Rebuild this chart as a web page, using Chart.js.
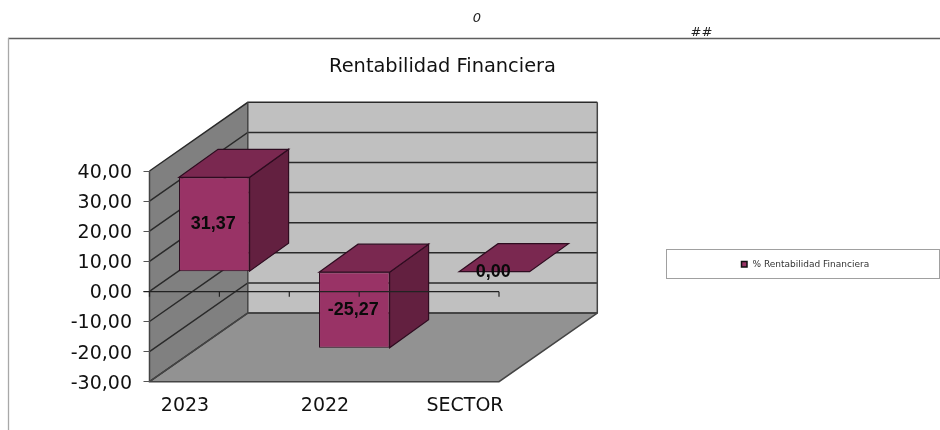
<!DOCTYPE html>
<html>
<head>
<meta charset="utf-8">
<style>
html,body{margin:0;padding:0;background:#fff}
canvas{display:block}
</style>
<script src="https://cdn.jsdelivr.net/npm/chart.js@4"></script>
</head>
<body>
<canvas id="c" width="940" height="430"></canvas>
<script>
const categories = ['2023', '2022', 'SECTOR'];
const seriesName = '% Rentabilidad Financiera';
const seriesValues = [31.37, -25.27, 0];
const chartTitle = 'Rentabilidad Financiera';
const strayTexts = ['0', '##'];
const yMin = -30, yMax = 40, yStep = 10;

const fmt = v => v.toFixed(2).replace('.', ',');
const FONT = '"DejaVu Sans"';
const WALL = {dx: 98.3, dy: 68.7};
const BAR = {shiftX: 29.3, shiftY: 19.7, dx: 39, dy: 28};

function poly(ctx, pts, fill, stroke, lw) {
  ctx.beginPath();
  pts.forEach((p, i) => i ? ctx.lineTo(p[0], p[1]) : ctx.moveTo(p[0], p[1]));
  ctx.closePath();
  if (fill) { ctx.fillStyle = fill; ctx.fill(); }
  if (stroke) { ctx.strokeStyle = stroke; ctx.lineWidth = lw || 1; ctx.stroke(); }
}

const scene = {
  id: 'scene',
  afterLayout(chart) {
    // bars spread wider than the floor in the source picture: widen the category scale only
    const x = chart.scales.x, a = chart.chartArea;
    x.left = a.left - 34.5; x.right = x.left + 420; x.width = 420;
    x.configure();
  },
  beforeDraw(chart) {
    const {ctx, chartArea: a, scales: {y}} = chart;
    const L = a.left, R = a.right, T = y.getPixelForValue(yMax), B = y.getPixelForValue(yMin);
    const dx = WALL.dx, dy = WALL.dy;
    // outer frame
    ctx.save();
    ctx.lineWidth = 1.3;
    ctx.strokeStyle = '#5e5e5e';
    ctx.beginPath(); ctx.moveTo(8, 38.5); ctx.lineTo(940, 38.5); ctx.stroke();
    ctx.strokeStyle = '#a8a8a8';
    ctx.beginPath(); ctx.moveTo(8.5, 38); ctx.lineTo(8.5, 430); ctx.stroke();
    // stray texts
    ctx.fillStyle = '#222';
    ctx.font = 'italic 13px ' + FONT;
    ctx.textAlign = 'center'; ctx.textBaseline = 'middle';
    ctx.fillText(strayTexts[0], 477, 19);
    ctx.fillText(strayTexts[1], 701.5, 33);
    // title
    ctx.fillStyle = '#111';
    ctx.font = '19.4px ' + FONT;
    ctx.fillText(chartTitle, 442.5, 67);
    // walls
    poly(ctx, [[L, T], [L + dx, T - dy], [L + dx, B - dy], [L, B]], '#808080');
    poly(ctx, [[L + dx, T - dy], [R + dx, T - dy], [R + dx, B - dy], [L + dx, B - dy]], '#c0c0c0');
    poly(ctx, [[L, B], [R, B], [R + dx, B - dy], [L + dx, B - dy]], '#929292');
    // gridlines on both walls
    ctx.strokeStyle = '#2a2a2a';
    ctx.lineWidth = 1.5;
    y.ticks.forEach(t => {
      const p = y.getPixelForValue(t.value);
      ctx.beginPath();
      ctx.moveTo(L, p); ctx.lineTo(L + dx, p - dy); ctx.lineTo(R + dx, p - dy);
      ctx.stroke();
    });
    // wall edges
    ctx.strokeStyle = '#444';
    ctx.beginPath();
    ctx.moveTo(L, T); ctx.lineTo(L, B); ctx.lineTo(R, B); ctx.lineTo(R + dx, B - dy); ctx.lineTo(R + dx, T - dy);
    ctx.moveTo(L + dx, T - dy); ctx.lineTo(L + dx, B - dy); ctx.lineTo(L, B);
    ctx.moveTo(L + dx, B - dy); ctx.lineTo(R + dx, B - dy);
    ctx.stroke();
    // legend
    ctx.fillStyle = '#fff';
    ctx.strokeStyle = '#a0a0a0';
    ctx.lineWidth = 1;
    ctx.fillRect(666.5, 249.5, 273, 29);
    ctx.strokeRect(666.5, 249.5, 273, 29);
    ctx.fillStyle = '#993366';
    ctx.strokeStyle = '#111';
    ctx.lineWidth = 1.5;
    ctx.fillRect(741.5, 261.5, 5.5, 5.5);
    ctx.strokeRect(741.5, 261.5, 5.5, 5.5);
    ctx.fillStyle = '#333';
    ctx.font = '9px ' + FONT;
    ctx.textAlign = 'left';
    ctx.fillText(seriesName, 752.5, 264.5);
    ctx.restore();
  },
  beforeDatasetsDraw(chart) {
    chart.ctx.save();
    chart.ctx.translate(BAR.shiftX, -BAR.shiftY);
  },
  afterDatasetsDraw(chart) {
    const {ctx, chartArea: a, scales: {y}} = chart;
    const meta = chart.getDatasetMeta(0);
    const edge = '#2e0c20';
    const d = BAR;
    meta.data.forEach(bar => {
      const l = bar.x - bar.width / 2, r = bar.x + bar.width / 2;
      const t = Math.min(bar.y, bar.base), b = Math.max(bar.y, bar.base);
      if (b - t > 0.5) poly(ctx, [[r, t], [r + d.dx, t - d.dy], [r + d.dx, b - d.dy], [r, b]], '#632040', edge, 1.2);
      poly(ctx, [[l, t], [l + d.dx, t - d.dy], [r + d.dx, t - d.dy], [r, t]], '#7a2850', edge, 1.2);
    });
    ctx.restore();
    // zero axis line with its tick marks, in front of the bars
    const z = y.getPixelForValue(0) + 0.3;
    ctx.save();
    ctx.strokeStyle = '#222';
    ctx.lineWidth = 1.2;
    ctx.beginPath();
    ctx.moveTo(a.left - 6, z); ctx.lineTo(a.right, z);
    const step = (a.right - a.left) / 5;
    [0, 1, 2, 3, 5].forEach(i => {
      ctx.moveTo(a.left + i * step, z); ctx.lineTo(a.left + i * step, z + 5);
    });
    ctx.stroke();
    // data labels
    ctx.fillStyle = '#0a0a0a';
    ctx.font = 'bold 18px "Liberation Sans"';
    ctx.textAlign = 'center'; ctx.textBaseline = 'middle';
    meta.data.forEach((bar, i) => {
      const mid = (bar.y + bar.base) / 2;
      ctx.fillText(fmt(seriesValues[i]), bar.x + BAR.shiftX - 1, mid - BAR.shiftY);
    });
    ctx.restore();
  }
};

new Chart(document.getElementById('c'), {
  type: 'bar',
  plugins: [scene],
  data: {
    labels: categories,
    datasets: [{
      label: seriesName,
      data: seriesValues,
      backgroundColor: '#993366',
      borderColor: '#2e0c20',
      borderWidth: 1,
      borderSkipped: false,
      barPercentage: 1,
      categoryPercentage: 0.504,
      clip: false
    }]
  },
  options: {
    responsive: false,
    animation: false,
    events: [],
    layout: {padding: {left: 0, right: 441, top: 171, bottom: 0}},
    plugins: {legend: {display: false}, title: {display: false}, tooltip: {enabled: false}},
    scales: {
      x: {
        type: 'category',
        afterFit(s) { s.height = 48.3; },
        grid: {display: false},
        border: {display: false},
        ticks: {
          autoSkip: false, maxRotation: 0, minRotation: 0,
          padding: 5,
          color: '#111',
          font: {family: 'DejaVu Sans', size: 19}
        }
      },
      y: {
        min: yMin, max: yMax,
        afterFit(s) { s.width = 149.5; },
        grid: {drawOnChartArea: false, drawTicks: true, tickLength: 6, color: '#555'},
        border: {display: false},
        ticks: {
          stepSize: yStep,
          padding: 11.5,
          labelOffset: 2,
          color: '#111',
          font: {family: 'DejaVu Sans', size: 19},
          callback: v => fmt(v)
        }
      }
    }
  }
});
</script>
</body>
</html>
